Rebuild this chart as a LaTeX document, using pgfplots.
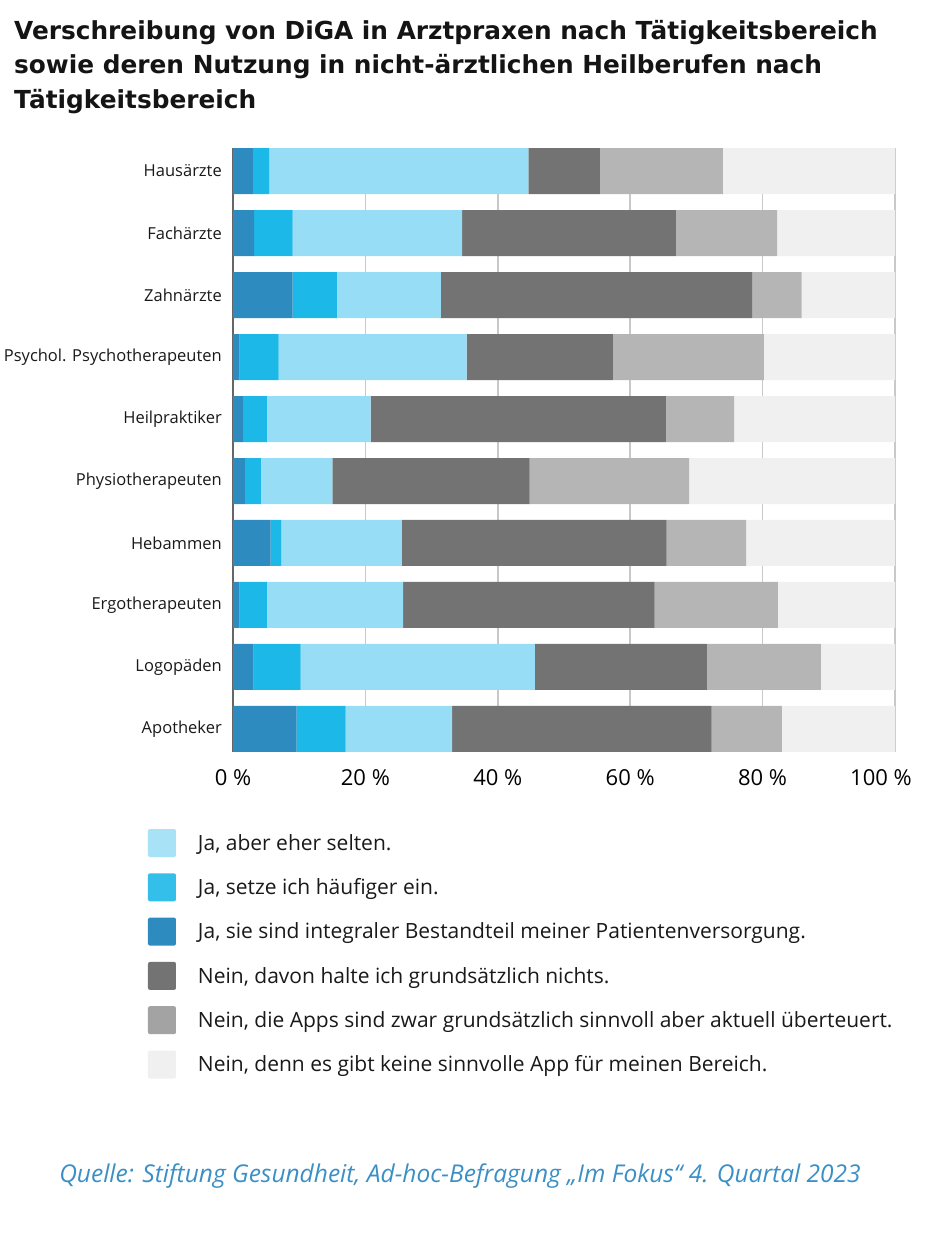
\documentclass[border=0pt]{standalone}
\usepackage{fontspec}
\setmainfont{Open Sans}
\newfontfamily\srcfont{Open Sans}
\newfontfamily\titlefont{DejaVu Sans}
\usepackage{pgfplots}
\usepackage{pgfplotstable}
\pgfplotsset{compat=1.18}
\definecolor{dblue}{HTML}{2E8BC0}
\definecolor{mblue}{HTML}{1CB8E8}
\definecolor{lblue}{HTML}{98DDF6}
\definecolor{dgray}{HTML}{737373}
\definecolor{mgray}{HTML}{B5B5B5}
\definecolor{lgray}{HTML}{F0F0F0}
\definecolor{srcblue}{HTML}{3A8FC6}
\definecolor{gridc}{HTML}{C8C8C8}
\pgfplotstableread{
y  c1  c2  c3   c4   c5   c6
9  3.0 2.5 39.1 10.8 18.6 26.0
8  3.2 5.8 25.6 32.3 15.3 17.8
7  9.0 6.7 15.7 47.0 7.5  14.1
6  1.0 5.9 28.4 22.1 22.8 19.8
5  1.5 3.6 15.7 44.6 10.3 24.3
4  1.8 2.4 10.8 29.8 24.1 31.1
3  5.7 1.6 18.2 40.0 12.0 22.5
2  1.0 4.1 20.6 38.0 18.6 17.7
1  3.1 7.1 35.4 26.0 17.2 11.2
0  9.6 7.4 16.1 39.2 10.6 17.1
}\datatable
\begin{document}
\begin{tikzpicture}
\path[use as bounding box] (0pt,0pt) rectangle (930pt,-1234pt);
\tikzset{ttl/.style={anchor=base west, inner sep=0pt, font=\titlefont\fontsize{24.8}{30}\selectfont\bfseries, text=black!92}}
\node[ttl] at (14pt,-39pt) {Verschreibung von DiGA in Arztpraxen nach Tätigkeitsbereich};
\node[ttl] at (14pt,-73pt) {sowie deren Nutzung in nicht-ärztlichen Heilberufen nach};
\node[ttl] at (14pt,-108pt) {Tätigkeitsbereich};
\begin{axis}[
  at={(233pt,-752pt)}, anchor=south west,
  scale only axis, width=662pt, height=604pt,
  xbar stacked, bar width=46pt,
  xmin=0, xmax=100, ymin=-0.372, ymax=9.372,
  axis lines*=left,
  axis line style={-},
  x axis line style={draw=none},
  y axis line style={draw=gray!80!black, line width=1.2pt},
  xmajorgrids, grid style={draw=gridc, line width=1.5pt},
  major tick length=0pt,
  xtick={0,20,40,60,80},
  xticklabels={0 \%,20 \%,40 \%,60 \%,80 \%},
  extra x ticks={100},
  extra x tick labels={100 \%},
  extra x tick style={grid=major, xticklabel style={xshift=-14pt}},
  xticklabel style={font=\fontsize{22}{24}\selectfont, inner sep=0pt, yshift=-17pt},
  ytick={0,...,9},
  yticklabels={Apotheker,Logopäden,Ergotherapeuten,Hebammen,Physiotherapeuten,Heilpraktiker,Psychol. Psychotherapeuten,Zahnärzte,Fachärzte,Hausärzte},
  yticklabel style={font=\fontsize{16.5}{18}\selectfont, inner sep=0pt, xshift=-11pt, text=black!90},
  legend image code/.code={\fill[#1, rounded corners=2pt] (0pt,-14pt) rectangle (28pt,14pt);},
  legend cell align=left,
  legend style={at={(-0.1284,-0.1275)}, anchor=north west, draw=none, fill=none,
    inner sep=0pt, outer sep=0pt, row sep=16.3pt, column sep=22pt,
    nodes={inner sep=0pt}, font=\fontsize{21}{23}\selectfont, text=black!90},
]
\addplot[fill=dblue, draw=none, forget plot] table[x=c1, y=y] {\datatable};
\addplot[fill=mblue, draw=none, forget plot] table[x=c2, y=y] {\datatable};
\addplot[fill=lblue, draw=none, forget plot] table[x=c3, y=y] {\datatable};
\addplot[fill=dgray, draw=none, forget plot] table[x=c4, y=y] {\datatable};
\addplot[fill=mgray, draw=none, forget plot] table[x=c5, y=y] {\datatable};
\addplot[fill=lgray, draw=none, forget plot] table[x=c6, y=y] {\datatable};
\addlegendimage{fill=lblue!85!white, draw=none}
\addlegendentry{Ja, aber eher selten.}
\addlegendimage{fill=mblue!90!white, draw=none}
\addlegendentry{Ja, setze ich häufiger ein.}
\addlegendimage{fill=dblue, draw=none}
\addlegendentry{Ja, sie sind integraler Bestandteil meiner Patientenversorgung.}
\addlegendimage{fill=dgray, draw=none}
\addlegendentry{Nein, davon halte ich grundsätzlich nichts.}
\addlegendimage{fill=mgray!90!black, draw=none}
\addlegendentry{Nein, die Apps sind zwar grundsätzlich sinnvoll aber aktuell überteuert.}
\addlegendimage{fill=lgray, draw=none}
\addlegendentry{Nein, denn es gibt keine sinnvolle App für meinen Bereich.}
\end{axis}
\node[anchor=base, inner sep=0pt, font=\srcfont\itshape\fontsize{24.5}{27}\selectfont, text=srcblue] at (460pt,-1182pt) {Quelle: Stiftung Gesundheit, Ad-hoc-Befragung „Im Fokus“ 4. Quartal 2023};
\end{tikzpicture}
\end{document}
